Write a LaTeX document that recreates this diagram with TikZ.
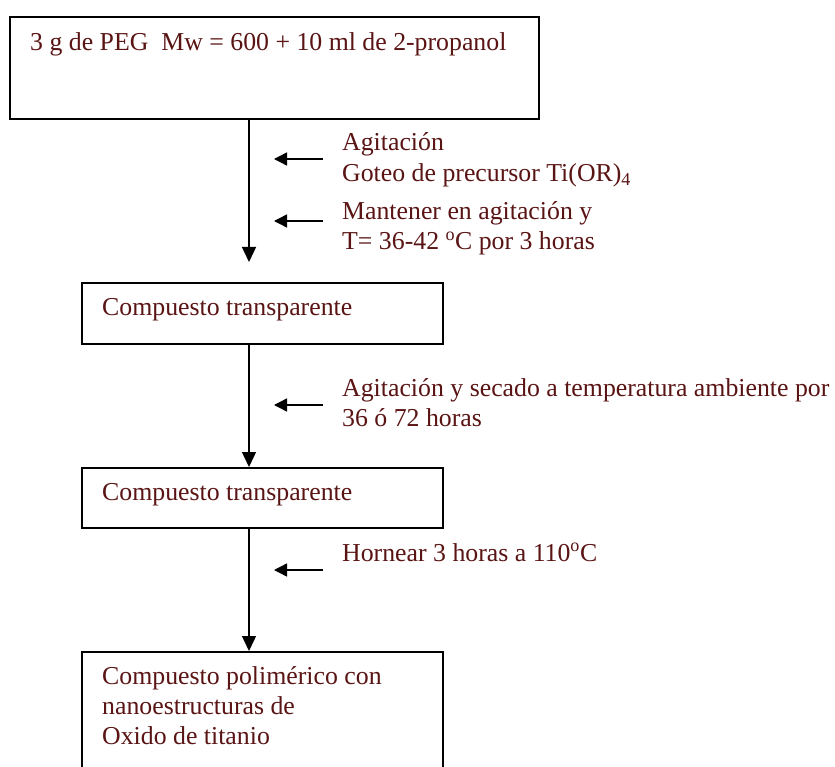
\documentclass[tikz,border=0pt]{standalone}
\usepackage{fontspec}
\setmainfont{Liberation Serif}
\usetikzlibrary{arrows.meta}
\definecolor{txt}{HTML}{5A1414}
\begin{document}
\begin{tikzpicture}[x=1pt,y=-1pt,
  box/.style={draw=black,line width=1.8pt,anchor=north west,inner sep=0pt},
  lbl/.style={anchor=base west,inner sep=0pt,text=txt,font=\fontsize{25.8}{30}\selectfont},
  flow/.style={line width=1.4pt,-{Triangle[length=15pt,width=14pt]}},
  side/.style={line width=1.4pt,-{Triangle[length=13pt,width=13pt]}}]
\useasboundingbox (0,0) rectangle (835,767);
\fill[white] (0,0) rectangle (835,767);
% boxes
\node[box,minimum width=529pt,minimum height=102pt] (b1) at (9,16) {};
\node[box,minimum width=361pt,minimum height=61pt] (b2) at (81,282) {};
\node[box,minimum width=361pt,minimum height=60pt] (b3) at (81,467) {};
\node[box,minimum width=361pt,minimum height=140pt] (b4) at (81,651) {};
% box texts
\node[lbl] (t1) at (30,51) {3 g de PEG\ \ Mw = 600 + 10 ml de 2-propanol};
\node[lbl] (t2) at (102,316) {Compuesto transparente};
\node[lbl] (t3) at (102,500) {Compuesto transparente};
\node[lbl] (t4a) at (102,684) {Compuesto polimérico con};
\node[lbl] (t4b) at (102,714) {nanoestructuras de};
\node[lbl] (t4c) at (102,744) {Oxido de titanio};
% side texts
\node[lbl] (s1a) at (342,151) {Agitación};
\node[lbl] (s1b) at (342,182) {Goteo de precursor Ti(OR)\textsubscript{4}};
\node[lbl] (s2a) at (342,220) {Mantener en agitación y};
\node[lbl] (s2b) at (342,250) {T= 36-42 \textsuperscript{o}C por 3 horas};
\node[lbl] (s3a) at (342,396) {Agitación y secado a temperatura ambiente por};
\node[lbl] (s3b) at (342,426) {36 ó 72 horas};
\node[lbl] (s4) at (342,561) {Hornear 3 horas a 110\textsuperscript{o}C};
% flow arrows
\coordinate (x0) at (249,0);
\coordinate (e1) at (249,262);
\draw[flow] (b1.south -| x0) -- (e1);
\draw[flow] (b2.south -| x0) -- (b3.north -| x0);
\draw[flow] (b3.south -| x0) -- (b4.north -| x0);
% side arrows
\coordinate (a1s) at (323,159); \coordinate (a1e) at (274,159);
\coordinate (a2s) at (323,221); \coordinate (a2e) at (274,221);
\coordinate (a3s) at (323,405); \coordinate (a3e) at (274,405);
\coordinate (a4s) at (323,570); \coordinate (a4e) at (274,570);
\draw[side] (a1s) -- (a1e);
\draw[side] (a2s) -- (a2e);
\draw[side] (a3s) -- (a3e);
\draw[side] (a4s) -- (a4e);
\end{tikzpicture}
\end{document}
